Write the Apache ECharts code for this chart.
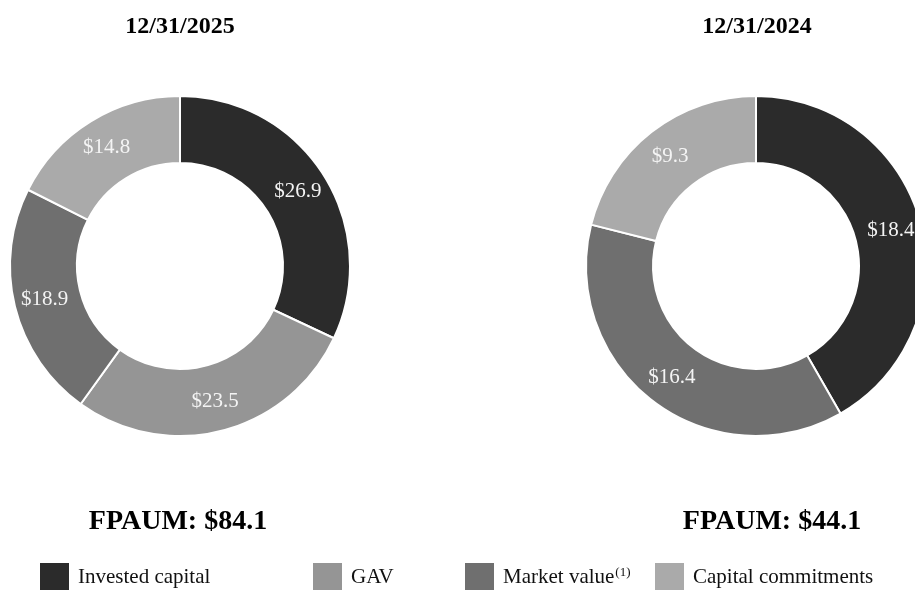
<!DOCTYPE html>
<html>
<head>
<meta charset="utf-8">
<script src="https://cdn.jsdelivr.net/npm/echarts@6/dist/echarts.min.js"></script>
<style>
  html, body { margin: 0; padding: 0; background: #fff; }
  #chart { width: 915px; height: 590px; }
</style>
</head>
<body>
<div id="chart"></div>
<script>
// Fee-paying AUM by basis, in $ billions
const categories = ['Invested capital', 'GAV', 'Market value', 'Capital commitments'];
const colors = ['#2b2b2b', '#959595', '#6f6f6f', '#aaaaaa'];

const periods = ['12/31/2025', '12/31/2024'];
const values2025 = [26.9, 23.5, 18.9, 14.8];
const values2024 = [18.4, null, 16.4, 9.3];   // no GAV balance at 12/31/2024
const totals = [84.1, 44.1];

const SERIF = '"Liberation Serif", "Times New Roman", serif';

function pieData(values) {
  const out = [];
  values.forEach((v, i) => {
    if (v == null) return;
    out.push({ name: categories[i], value: v, itemStyle: { color: colors[i] } });
  });
  return out;
}

function donut(center, values) {
  return {
    type: 'pie',
    center: center,
    radius: [103, 170],
    startAngle: 90,
    clockwise: true,
    avoidLabelOverlap: false,
    silent: true,
    itemStyle: { borderColor: '#ffffff', borderWidth: 2 },
    label: {
      show: true,
      position: 'inside',
      formatter: p => '$' + p.value.toFixed(1),
      color: '#f4f4f4',
      fontFamily: SERIF,
      fontSize: 21
    },
    labelLine: { show: false },
    emphasis: { disabled: true },
    data: pieData(values)
  };
}

// One legend block per category so each can sit at its own spot
const legendLeft = [38, 311, 463, 653];
const legends = categories.map((name, i) => ({
  data: [name],
  left: legendLeft[i],
  top: 561,
  orient: 'horizontal',
  icon: 'rect',
  itemWidth: 31,
  itemHeight: 30,
  selectedMode: false,
  padding: 0,
  formatter: n => n === 'Market value' ? 'Market value{sup|(1)}' : n,
  textStyle: {
    fontFamily: SERIF,
    fontSize: 21,
    color: '#111',
    padding: [0, 0, 0, 3],
    rich: {
      sup: { fontFamily: SERIF, fontSize: 13, color: '#111', padding: [0, 0, 9, 1] }
    }
  }
}));

const chart = echarts.init(document.getElementById('chart'), null, { renderer: 'canvas' });
chart.setOption({
  backgroundColor: '#ffffff',
  animation: false,
  legend: legends,
  graphic: [
    { type: 'text', x: 180, y: 27, style: { text: periods[0], font: 'bold 24px ' + SERIF, fill: '#000', align: 'center', verticalAlign: 'middle' } },
    { type: 'text', x: 757, y: 27, style: { text: periods[1], font: 'bold 24px ' + SERIF, fill: '#000', align: 'center', verticalAlign: 'middle' } },
    { type: 'text', x: 178, y: 522, style: { text: 'FPAUM: $' + totals[0].toFixed(1), font: 'bold 28px ' + SERIF, fill: '#000', align: 'center', verticalAlign: 'middle' } },
    { type: 'text', x: 772, y: 522, style: { text: 'FPAUM: $' + totals[1].toFixed(1), font: 'bold 28px ' + SERIF, fill: '#000', align: 'center', verticalAlign: 'middle' } }
  ],
  series: [
    donut([180, 266], values2025),
    donut([756, 266], values2024)
  ]
});
</script>
</body>
</html>
